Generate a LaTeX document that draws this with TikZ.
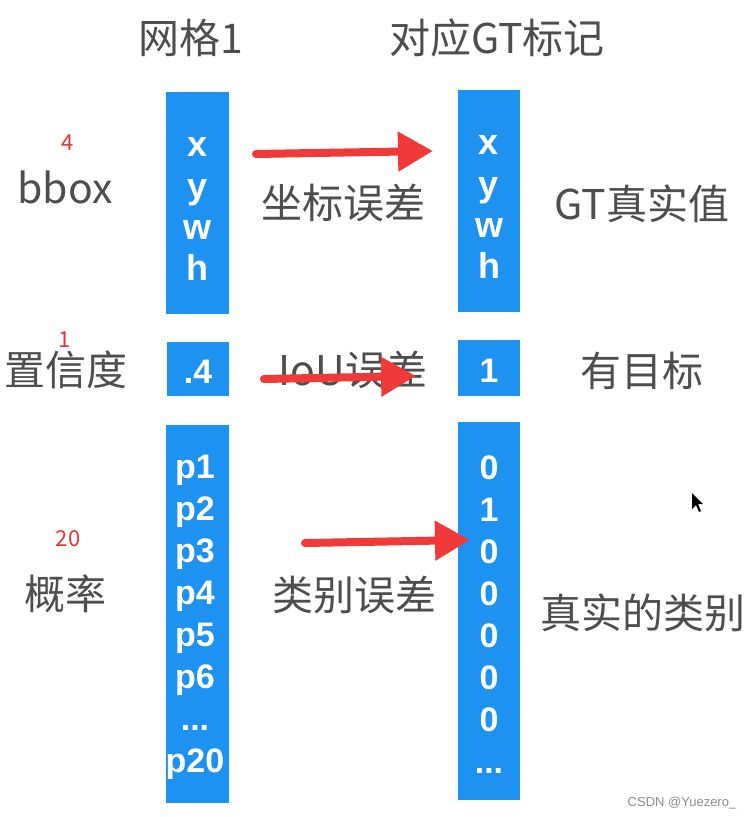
\documentclass[tikz,border=0pt]{standalone}
\usepackage{fontspec}
\setmainfont{Noto Sans CJK SC}
\newfontfamily\boxfont{Liberation Sans}
\usetikzlibrary{arrows.meta}
\definecolor{cellblue}{RGB}{30,146,240}
\definecolor{arrowred}{RGB}{240,58,58}
\definecolor{labelgray}{RGB}{78,78,78}
\definecolor{numred}{RGB}{232,52,52}
\definecolor{markgray}{RGB}{140,140,140}
\begin{document}
\begin{tikzpicture}[x=1pt,y=-1pt,
  cell/.style={fill=cellblue, draw=none, inner sep=0pt},
  val/.style={text=white, font=\boxfont\bfseries\fontsize{34}{34}\selectfont, anchor=base, inner sep=0pt},
  bigval/.style={val, font=\boxfont\bfseries\fontsize{36}{36}\selectfont},
  lbl/.style={text=labelgray, font=\fontsize{41}{41}\selectfont, inner sep=0pt},
  cnt/.style={text=numred, font=\fontsize{22}{22}\selectfont, inner sep=0pt},
  bigarrow/.style={draw=arrowred, line width=8pt, line cap=round, -{Triangle[length=35pt,width=38pt]}}
]
\useasboundingbox (0,0) rectangle (747,817);
\fill[white] (0,0) rectangle (747,817);

% blue columns
\node[cell, minimum width=63pt, minimum height=222pt] (b1) at (197.5,203) {};
\node[cell, minimum width=62pt, minimum height=54pt] (c1) at (198,369) {};
\node[cell, minimum width=63pt, minimum height=378pt] (p1) at (197.5,614) {};
\node[cell, minimum width=62pt, minimum height=222pt] (g1) at (489,201) {};
\node[cell, minimum width=62pt, minimum height=56pt] (g2) at (489,368) {};
\node[cell, minimum width=62pt, minimum height=378pt] (g3) at (489,611) {};

% left values
\node[bigval] (vx) at (197.5,156) {x};
\node[bigval] (vy) at (197.5,198) {y};
\node[bigval] (vw) at (197.5,239) {w};
\node[bigval] (vh) at (197.5,280) {h};
\node[val] (vc) at (198,383) {.4};
\node[val] (vp1) at (195,478) {p1};
\node[val] (vp2) at (195,520) {p2};
\node[val] (vp3) at (195,562) {p3};
\node[val] (vp4) at (195,604) {p4};
\node[val] (vp5) at (195,646) {p5};
\node[val] (vp6) at (195,688) {p6};
\node[val] (vpd) at (195,730) {...};
\node[val] (vp20) at (195,772) {p20};

% right values
\node[bigval] (gx) at (489,154) {x};
\node[bigval] (gy) at (489,196) {y};
\node[bigval] (gw) at (489,237) {w};
\node[bigval] (gh) at (489,278) {h};
\node[val] (gc) at (489,382) {1};
\node[val] (g01) at (489,479) {0};
\node[val] (g02) at (489,521) {1};
\node[val] (g03) at (489,563) {0};
\node[val] (g04) at (489,605) {0};
\node[val] (g05) at (489,647) {0};
\node[val] (g06) at (489,689) {0};
\node[val] (g07) at (489,731) {0};
\node[val] (g08) at (489,773) {...};

% headers and labels
\node[lbl] (h1) at (191,38) {网格1};
\node[lbl] (h2) at (497,38) {对应GT标记};
\node[lbl] (l1) at (65,187) {bbox};
\node[lbl] (l2) at (66,370) {置信度};
\node[lbl] (l3) at (65,594) {概率};
\node[cnt] (n1) at (68,143) {4};
\node[cnt] (n2) at (65,340) {1};
\node[cnt] (n3) at (68,539) {20};
\node[lbl] (m1) at (343,203) {坐标误差};
\node[lbl] (m2) at (353,370) {IoU误差};
\node[lbl] (m3) at (354,595) {类别误差};
\node[lbl] (r1) at (642,204) {GT真实值};
\node[lbl] (r2) at (642,371) {有目标};
\node[lbl] (r3) at (643,613) {真实的类别};

% arrows
\coordinate (a1s) at (256,154);
\coordinate (a1e) at (433,151);
\coordinate (a2s) at (264,379);
\coordinate (a2e) at (416,376);
\coordinate (a3s) at (305,543);
\coordinate (a3e) at (470,540);
\draw[bigarrow] (a1s) -- (a1e);
\draw[bigarrow] (a2s) -- (a2e);
\draw[bigarrow] (a3s) -- (a3e);

% mouse pointer
\fill[black] (692,493) -- (692,509) -- (696,505) -- (699,512) -- (701,511) -- (698,504) -- (703,504) -- cycle;

% watermark
\node[text=markgray, font=\boxfont\fontsize{13}{13}\selectfont, inner sep=0pt] (wm) at (682,803) {CSDN @Yuezero\_};
\end{tikzpicture}
\end{document}
